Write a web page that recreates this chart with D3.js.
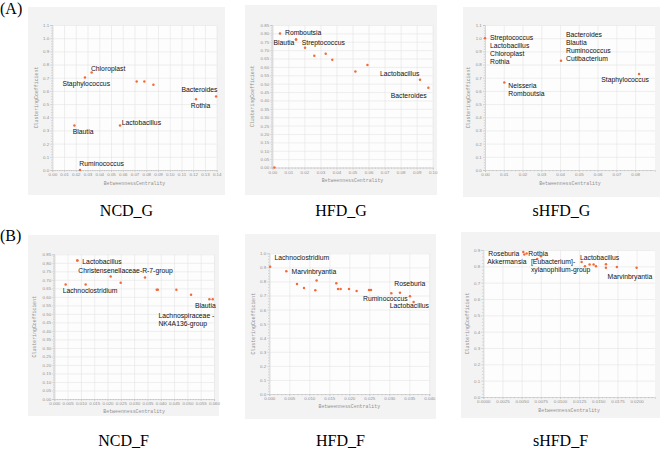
<!DOCTYPE html>
<html>
<head>
<meta charset="utf-8">
<script src="https://cdn.jsdelivr.net/npm/d3@7"></script>
<style>
  body { margin: 0; background: #fff; }
</style>
</head>
<body>
<script>

// data: BetweennessCentrality (bc) vs ClusteringCoefficient (cc)

const ncdG_names = ["Staphylococcus", "Chloroplast", "", "", "", "Rothia", "Bacteroides", "Blautia", "Lactobacillus", "Ruminococcus"];
const ncdG_bc = [0.0278, 0.0335, 0.0719, 0.0784, 0.0861, 0.1224, 0.1395, 0.0188, 0.0577, 0.0236];
const ncdG_cc = [0.701, 0.739, 0.671, 0.671, 0.646, 0.537, 0.557, 0.337, 0.337, 0.0];
const ncdG_xTicks = [0, 0.01, 0.02, 0.03, 0.04, 0.05, 0.06, 0.07, 0.08, 0.09, 0.10, 0.11, 0.12, 0.13, 0.14];
const ncdG_yTicks = [0, 0.1, 0.2, 0.3, 0.4, 0.5, 0.6, 0.7, 0.8, 0.9, 1.0, 1.1];

const hfdG_names = ["Romboutsia", "Blautia", "Streptococcus", "", "", "", "", "", "", "Lactobacillus", "Bacteroides", ""];
const hfdG_bc = [0.0048, 0.0148, 0.0148, 0.0204, 0.0262, 0.0333, 0.0374, 0.0518, 0.0593, 0.0921, 0.0973, 0.0013];
const hfdG_cc = [0.800, 0.764, 0.764, 0.714, 0.666, 0.678, 0.642, 0.572, 0.612, 0.524, 0.476, 0.0];
const hfdG_xTicks = [0, 0.01, 0.02, 0.03, 0.04, 0.05, 0.06, 0.07, 0.08, 0.09, 0.10];
const hfdG_yTicks = [0, 0.05, 0.10, 0.15, 0.20, 0.25, 0.30, 0.35, 0.40, 0.45, 0.50, 0.55, 0.60, 0.65, 0.70, 0.75, 0.80, 0.85];

const shfdG_names = ["Streptococcus\nLactobacillus\nChloroplast\nRothia", "Bacteroides\nBlautia\nRuminococcus\nCutibacterium", "Neisseria\nRomboutsia", "Staphylococcus"];
const shfdG_bc = [0.0, 0.0405, 0.0103, 0.0821];
const shfdG_cc = [1.0, 0.828, 0.663, 0.729];
const shfdG_xTicks = [0, 0.01, 0.02, 0.03, 0.04, 0.05, 0.06, 0.07, 0.08];
const shfdG_yTicks = [0, 0.1, 0.2, 0.3, 0.4, 0.5, 0.6, 0.7, 0.8, 0.9, 1.0, 1.1];

const ncdF_names = ["Lactobacillus", "Christensenellaceae-R-7-group", "Lachnoclostridium", "", "", "", "", "", "", "", "", "Lachnospiraceae -\nNK4A136-group", "Blautia"];
const ncdF_bc = [0.00865, 0.00865, 0.00426, 0.01178, 0.02118, 0.02494, 0.03409, 0.0385, 0.0389, 0.04586, 0.05138, 0.05827, 0.05952];
const ncdF_cc = [0.813, 0.813, 0.672, 0.672, 0.719, 0.683, 0.713, 0.642, 0.642, 0.642, 0.613, 0.586, 0.586];
const ncdF_xTicks = [0, 0.005, 0.010, 0.015, 0.020, 0.025, 0.030, 0.035, 0.040, 0.045, 0.050, 0.055, 0.060];
const ncdF_yTicks = [0, 0.05, 0.10, 0.15, 0.20, 0.25, 0.30, 0.35, 0.40, 0.45, 0.50, 0.55, 0.60, 0.65, 0.70, 0.75, 0.80, 0.85];

const hfdF_names = ["Lachnoclostridium", "Marvinbryantia", "", "", "", "", "", "", "", "", "", "", "", "Ruminococcus", "Roseburia", "", "Lactobacillus"];
const hfdF_bc = [0.0002, 0.00425, 0.00692, 0.00867, 0.0115, 0.01183, 0.01675, 0.01717, 0.01783, 0.01992, 0.02183, 0.02492, 0.02542, 0.0305, 0.03267, 0.03517, 0.03608];
const hfdF_cc = [0.905, 0.872, 0.782, 0.754, 0.737, 0.806, 0.787, 0.746, 0.746, 0.746, 0.732, 0.739, 0.739, 0.716, 0.720, 0.694, 0.654];
const hfdF_xTicks = [0, 0.005, 0.010, 0.015, 0.020, 0.025, 0.030, 0.035, 0.040];
const hfdF_yTicks = [0, 0.1, 0.2, 0.3, 0.4, 0.5, 0.6, 0.7, 0.8, 0.9, 1.0];

const shfdF_names = ["Roseburia", "Akkermansia", "Rothia", "[Eubacterium]-\nxylanophilum-group", "", "Lactobacillus", "", "", "", "", "", "", "", "Marvinbryantia"];
const shfdF_bc = [0.00522, 0.00535, 0.00565, 0.00704, 0.00752, 0.01283, 0.01326, 0.01387, 0.01439, 0.01470, 0.01600, 0.01600, 0.01743, 0.0200];
const shfdF_cc = [0.888, 0.872, 0.878, 0.845, 0.862, 0.827, 0.800, 0.811, 0.811, 0.800, 0.813, 0.792, 0.796, 0.792];
const shfdF_xTicks = [0, 0.0025, 0.0050, 0.0075, 0.0100, 0.0125, 0.0150, 0.0175, 0.0200];
const shfdF_yTicks = [0, 0.1, 0.2, 0.3, 0.4, 0.5, 0.6, 0.7, 0.8, 0.9];


// label placement per point: [anchor, dx, dy] in px

const ncdG_labelPos = [["middle", 1.3, 8.5], ["start", -0.7, -1.2], null, null, null, ["start", -5.3, 8.5], ["end", 1.3, -4.8], ["start", -1.7, 8.8], ["start", 1.7, -0.5], ["start", -0.7, -4.5]];
const hfdG_labelPos = [["start", 5, 1.5], ["end", -1.7, 5.2], ["start", 5.7, 5.2], null, null, null, null, null, null, ["end", -0.7, -3.5], ["end", -1.7, 9.8], null];
const shfdG_labelPos = [["start", 5, 1.5], ["start", 5, -24.2], ["start", 4, 5.2], ["middle", -14, 7.8]];
const ncdF_labelPos = [["start", 5, 3.5], ["start", 1, 12.5], ["start", -3, 8.8], null, null, null, null, null, null, null, null, ["start", -51, 18.8], ["end", 3, 9.2]];
const hfdF_labelPos = [["start", 4.3, -6.5], ["start", 5.3, 2.2], null, null, null, null, null, null, null, null, null, null, null, ["middle", -6, 7.8], ["start", -5.7, -6.8], null, ["middle", -4.3, 6.2]];
const shfdF_labelPos = [["end", -4, 3.8], ["end", 2.3, 9.2], ["start", 1.7, 2.2], ["start", -6.3, 5.2], null, ["start", -1.7, -2.2], null, null, null, null, null, null, null, ["middle", -6.7, 11.5]];


// panel layout

const w = 669;
const h = 452;

const panels = [
  {title: "NCD_G", names: ncdG_names, bc: ncdG_bc, cc: ncdG_cc, xTicks: ncdG_xTicks, yTicks: ncdG_yTicks,
   xMax: 0.14, xFmt: ".2f", yFmt: ".1f", labelPos: ncdG_labelPos,
   bg: [28, 7, 225, 195], plot: [52.3, 25, 216.7, 170], titleY: 216},
  {title: "HFD_G", names: hfdG_names, bc: hfdG_bc, cc: hfdG_cc, xTicks: hfdG_xTicks, yTicks: hfdG_yTicks,
   xMax: 0.10, xFmt: ".2f", yFmt: ".2f", labelPos: hfdG_labelPos,
   bg: [245, 5, 437, 195], plot: [272.3, 25, 432.7, 167.5], titleY: 216},
  {title: "sHFD_G", names: shfdG_names, bc: shfdG_bc, cc: shfdG_cc, xTicks: shfdG_xTicks, yTicks: shfdG_yTicks,
   xMax: 0.0906, xFmt: ".2f", yFmt: ".1f", labelPos: shfdG_labelPos,
   bg: [463, 7, 660, 197], plot: [485, 25, 655, 170], titleY: 216},
  {title: "NCD_F", names: ncdF_names, bc: ncdF_bc, cc: ncdF_cc, xTicks: ncdF_xTicks, yTicks: ncdF_yTicks,
   xMax: 0.060, xFmt: ".3f", yFmt: ".2f", labelPos: ncdF_labelPos,
   bg: [28, 235, 219, 416], plot: [54.3, 254.3, 214, 399], titleY: 446},
  {title: "HFD_F", names: hfdF_names, bc: hfdF_bc, cc: hfdF_cc, xTicks: hfdF_xTicks, yTicks: hfdF_yTicks,
   xMax: 0.040, xFmt: ".3f", yFmt: ".1f", labelPos: hfdF_labelPos,
   bg: [245, 234, 436, 419], plot: [269.3, 253.3, 429.3, 394], titleY: 446},
  {title: "sHFD_F", names: shfdF_names, bc: shfdF_bc, cc: shfdF_cc, xTicks: shfdF_xTicks, yTicks: shfdF_yTicks,
   xMax: 0.0224, xFmt: ".4f", yFmt: ".1f", labelPos: shfdF_labelPos,
   bg: [461, 232, 660, 418], plot: [483.3, 250, 655, 397], titleY: 446}
];


// add svg

const svg = d3.select("body")
  .append("svg")
    .attr("width", w)
    .attr("height", h);

svg.append("rect")
    .attr("width", w)
    .attr("height", h)
    .attr("fill", "#fff");

// figure letters

svg.append("text")
    .attr("x", 0)
    .attr("y", 14)
    .attr("font-family", "Liberation Serif, Times New Roman, serif")
    .attr("font-size", 16)
    .text("(A)");

svg.append("text")
    .attr("x", 0)
    .attr("y", 241)
    .attr("font-family", "Liberation Serif, Times New Roman, serif")
    .attr("font-size", 16)
    .text("(B)");


// minor tick positions between the major ones, up to the end of the domain

function minorTicks(ticks, max) {
  const step = (ticks[1] - ticks[0]) / 5;
  const out = [];
  for (let i = 0; i * step <= max + 1e-9; i++) {
    if (i % 5 !== 0) out.push(i * step);
  }
  return out;
}

panels.forEach(function (p) {

  const [left, top, right, bottom] = p.plot;
  const innerWidth = right - left;
  const innerHeight = bottom - top;
  const yMax = p.yTicks[p.yTicks.length - 1];

  const xScale = d3.scaleLinear()
      .domain([0, p.xMax])
      .range([0, innerWidth]);

  const yScale = d3.scaleLinear()
      .domain([0, yMax])
      .range([innerHeight, 0]);

// panel background

  svg.append("rect")
      .attr("x", p.bg[0])
      .attr("y", p.bg[1])
      .attr("width", p.bg[2] - p.bg[0])
      .attr("height", p.bg[3] - p.bg[1])
      .attr("fill", "#f3f3f3");

  const g = svg.append("g")
      .attr("transform", `translate (${left}, ${top})`);

  g.append("rect")
      .attr("width", innerWidth)
      .attr("height", innerHeight)
      .attr("fill", "#fdfdfd");

// grid

  g.append("g")
      .attr("class", "grid")
      .attr("transform", `translate (0, ${innerHeight})`)
      .call(d3.axisBottom(xScale).tickValues(p.xTicks).tickSize(-innerHeight).tickFormat(""))
      .call(s => s.select(".domain").remove())
      .call(s => s.selectAll("line").attr("stroke", "#e4e4e4").attr("stroke-width", 0.6));

  g.append("g")
      .attr("class", "grid")
      .call(d3.axisLeft(yScale).tickValues(p.yTicks).tickSize(-innerWidth).tickFormat(""))
      .call(s => s.select(".domain").remove())
      .call(s => s.selectAll("line").attr("stroke", "#e4e4e4").attr("stroke-width", 0.6));

// axes

  g.append("g")
      .attr("class", "xAxis")
      .attr("transform", `translate (0, ${innerHeight})`)
      .call(d3.axisBottom(xScale).tickValues(p.xTicks).tickSize(2).tickPadding(1.2)
        .tickFormat(d3.format(p.xFmt)));

  g.append("g")
      .attr("transform", `translate (0, ${innerHeight})`)
      .call(d3.axisBottom(xScale).tickValues(minorTicks(p.xTicks, p.xMax)).tickSize(1.2).tickFormat(""))
      .call(s => s.select(".domain").remove());

  g.append("g")
      .attr("class", "yAxis")
      .call(d3.axisLeft(yScale).tickValues(p.yTicks).tickSize(2).tickPadding(1.2)
        .tickFormat(d3.format(p.yFmt)));

  g.append("g")
      .call(d3.axisLeft(yScale).tickValues(minorTicks(p.yTicks, yMax)).tickSize(1.2).tickFormat(""))
      .call(s => s.select(".domain").remove());

  g.selectAll(".domain").attr("stroke", "#c8c8c8").attr("stroke-width", 0.6);
  g.selectAll(".tick line").filter(function () { return this.parentNode.parentNode.getAttribute("class") !== "grid"; })
      .attr("stroke", "#b0b0b0").attr("stroke-width", 0.5);
  g.selectAll(".xAxis text, .yAxis text")
      .attr("font-family", "Liberation Sans, Arial, sans-serif")
      .attr("font-size", 4.4)
      .attr("fill", "#909090");

// axis titles

  g.append("text")
      .attr("x", innerWidth / 2)
      .attr("y", innerHeight + 14.5)
      .attr("text-anchor", "middle")
      .attr("font-family", "Liberation Mono, Courier New, monospace")
      .attr("font-size", 4.9)
      .attr("fill", "#909090")
      .text("BetweennessCentrality");

  const labelChars = d3.format(p.yFmt)(yMax).length;

  g.append("text")
      .attr("transform", `translate (${-(6 + labelChars * 3.5)}, ${innerHeight / 2}) rotate(-90)`)
      .attr("text-anchor", "middle")
      .attr("dy", "0.35em")
      .attr("font-family", "Liberation Mono, Courier New, monospace")
      .attr("font-size", 4.9)
      .attr("fill", "#909090")
      .text("ClusteringCoefficient");

// points

  const idx = d3.range(p.bc.length);

  g.append("g")
    .selectAll("circle")
      .data(idx)
    .enter().append("circle")
      .attr("cx", i => xScale(p.bc[i]))
      .attr("cy", i => yScale(p.cc[i]))
      .attr("r", 1.25)
      .attr("fill", "#f26b3a");

// labels

  const labels = g.append("g")
    .selectAll("text")
      .data(idx.filter(i => p.names[i] !== ""))
    .enter().append("text")
      .attr("x", i => xScale(p.bc[i]) + p.labelPos[i][1])
      .attr("y", i => yScale(p.cc[i]) + p.labelPos[i][2])
      .attr("text-anchor", i => p.labelPos[i][0])
      .attr("font-family", "Liberation Sans, Arial, sans-serif")
      .attr("font-size", 6.8)
      .attr("fill", "#111");

  labels.each(function (i) {
    const t = d3.select(this);
    const x0 = xScale(p.bc[i]) + p.labelPos[i][1];
    p.names[i].split("\n").forEach(function (line, k) {
      t.append("tspan")
          .attr("x", x0)
          .attr("dy", k === 0 ? 0 : 8)
          .text(line);
    });
  });

// panel title

  svg.append("text")
      .attr("x", (p.bg[0] + p.bg[2]) / 2)
      .attr("y", p.titleY)
      .attr("text-anchor", "middle")
      .attr("font-family", "Liberation Serif, Times New Roman, serif")
      .attr("font-size", 16)
      .text(p.title);

});

</script>
</body>
</html>
